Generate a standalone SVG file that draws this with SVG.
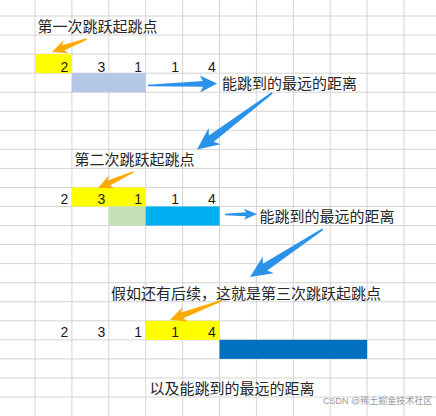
<svg xmlns="http://www.w3.org/2000/svg" width="436" height="416" viewBox="0 0 436 416">
<style>
.grid{stroke:#d4d4d4;stroke-width:1;fill:none}
.lbl{font-family:"Noto Sans CJK SC","Noto Sans",sans-serif;font-size:15px;fill:#262626}
.num{font-family:"Liberation Sans",Arial,sans-serif;font-size:14px;fill:#1a1a1a;text-anchor:end}
.yel{fill:#ffff00}
.ora{fill:#fbab00}
.blu{fill:#2b92ea}
.wm{font-family:"Liberation Sans","Noto Sans CJK SC",sans-serif;font-size:9px;fill:#9a9a9a}
</style>
<rect width="436" height="416" fill="#ffffff"/>
<g id="grid" class="grid">
<path d="M35,0V416M71.9,0V416M108.8,0V416M145.7,0V416M182.6,0V416M219.5,0V416M256.4,0V416M293.3,0V416M330.2,0V416M367.1,0V416M404,0V416"/>
<path d="M0,16H436M0,35.05H436M0,54.1H436M0,73.15H436M0,92.2H436M0,111.25H436M0,130.3H436M0,149.35H436M0,168.4H436M0,187.45H436M0,206.5H436M0,225.55H436M0,244.6H436M0,263.65H436M0,282.7H436M0,301.75H436M0,320.8H436M0,339.85H436M0,358.9H436M0,377.95H436M0,397H436"/>
</g>
<g id="row1">
<rect class="yel" x="35" y="54.1" width="36.9" height="19.05"/>
<rect x="71.9" y="73.15" width="73.8" height="19.05" fill="#b4c7e7"/>
<text class="num" x="68.3" y="71.7">2</text>
<text class="num" x="105.2" y="71.7">3</text>
<text class="num" x="142.1" y="71.7">1</text>
<text class="num" x="179" y="71.7">1</text>
<text class="num" x="215.9" y="71.7">4</text>
</g>
<g id="row2">
<rect class="yel" x="71.9" y="187.45" width="73.8" height="19.05"/>
<rect x="108.8" y="206.5" width="36.9" height="19.05" fill="#c5e0b4"/>
<rect x="145.7" y="206.5" width="73.8" height="19.05" fill="#00b0f0"/>
<text class="num" x="68.3" y="204">2</text>
<text class="num" x="105.2" y="204">3</text>
<text class="num" x="142.1" y="204">1</text>
<text class="num" x="179" y="204">1</text>
<text class="num" x="215.9" y="204">4</text>
</g>
<g id="row3">
<rect class="yel" x="145.7" y="320.8" width="73.8" height="19.05"/>
<rect x="219.5" y="339.85" width="147.6" height="19.05" fill="#0070c0"/>
<text class="num" x="68.3" y="336.7">2</text>
<text class="num" x="105.2" y="336.7">3</text>
<text class="num" x="142.1" y="336.7">1</text>
<text class="num" x="179" y="336.7">1</text>
<text class="num" x="215.9" y="336.7">4</text>
</g>
<g id="label1"><text class="lbl" x="37.5" y="31.5">第一次跳跃起跳点</text></g>
<g id="label2"><text class="lbl" x="222" y="88.5">能跳到的最远的距离</text></g>
<g id="label3"><text class="lbl" x="74.5" y="165">第二次跳跃起跳点</text></g>
<g id="label4"><text class="lbl" x="259.5" y="222">能跳到的最远的距离</text></g>
<g id="label5"><text class="lbl" x="111" y="298.5">假如还有后续，这就是第三次跳跃起跳点</text></g>
<g id="label6"><text class="lbl" x="149.5" y="393.5">以及能跳到的最远的距离</text></g>
<g id="watermark"><text class="wm" x="323" y="404">CSDN @稀土掘金技术社区</text></g>
<g id="connectors">
<path class="ora" transform="translate(52,52) rotate(159.6)" d="M0,0 L-15,-7 L-12,-2.8 L-37,-0.8 L-37,0.8 L-12,2.8 L-15,7 Z"/>
<path class="blu" transform="translate(217,83.5) rotate(-1.7)" d="M0,0 L-17,-8.5 L-14,-2.8 L-69,-0.8 L-69,0.8 L-14,2.8 L-17,8.5 Z"/>
<path class="blu" transform="translate(197,149.5) rotate(143)" d="M0,0 L-22,-10 L-18,-4 L-94,-1 L-94,1 L-18,4 L-22,10 Z"/>
<path class="ora" transform="translate(98,188) rotate(155.6)" d="M0,0 L-15,-7 L-12,-2.8 L-39,-0.8 L-39,0.8 L-12,2.8 L-15,7 Z"/>
<path class="blu" transform="translate(257,214) rotate(-1)" d="M0,0 L-13,-5.5 L-11,-2 L-32,-0.7 L-32,0.7 L-11,2 L-13,5.5 Z"/>
<path class="blu" transform="translate(250,277) rotate(146.7)" d="M0,0 L-22,-10 L-18,-4 L-87,-1 L-87,1 L-18,4 L-22,10 Z"/>
<path class="ora" transform="translate(170,320) rotate(159.4)" d="M0,0 L-16,-7.5 L-13,-3 L-55.5,-0.8 L-55.5,0.8 L-13,3 L-16,7.5 Z"/>
</g>
</svg>
